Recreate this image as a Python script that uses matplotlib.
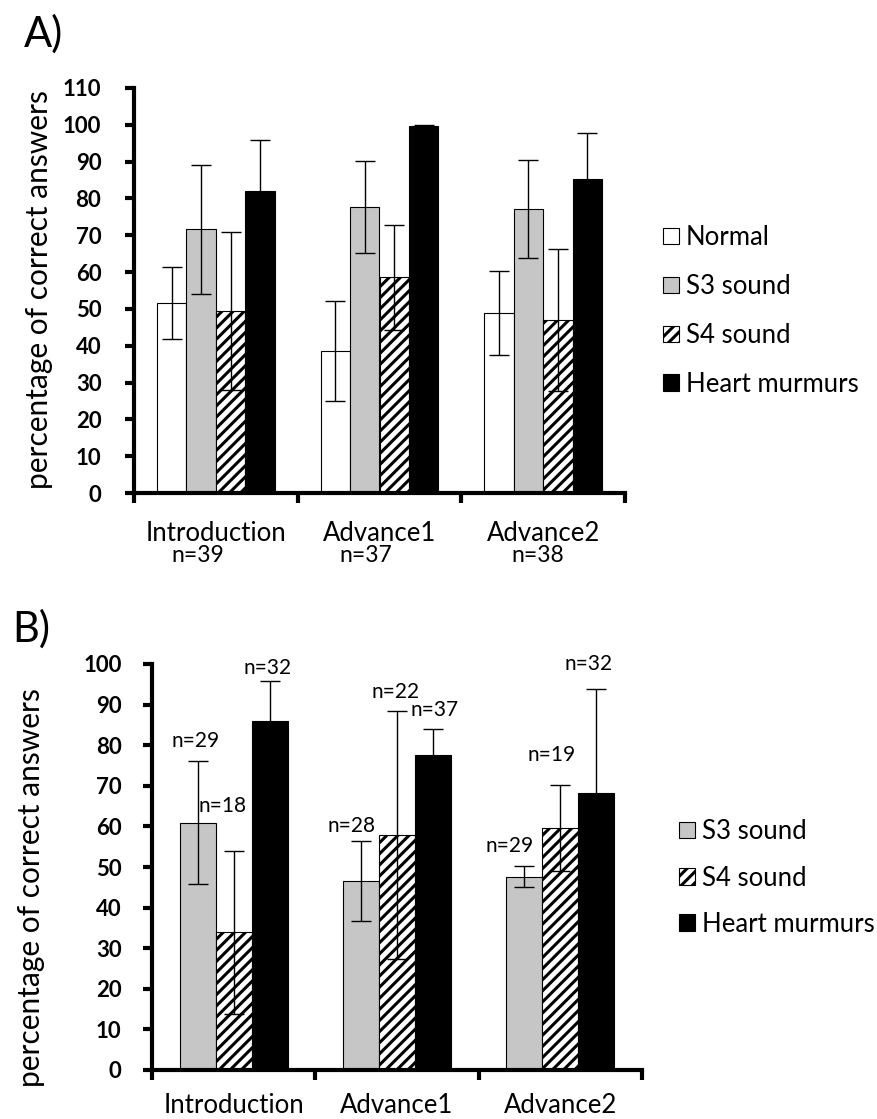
import matplotlib
matplotlib.use("Agg")
import matplotlib.pyplot as plt
import matplotlib.patches as mpatches
import numpy as np

plt.rcParams['font.family'] = ['Lato', 'DejaVu Sans']
plt.rcParams['hatch.linewidth'] = 2.2

# ---------------- data ----------------
categories = ["Introduction", "Advance1", "Advance2"]
n_a = ["n=39", "n=37", "n=38"]

series_a = ["Normal", "S3 sound", "S4 sound", "Heart murmurs"]
normal_a = [51.6, 38.5, 48.8]
normal_a_err = [9.9, 13.6, 11.4]
s3_a = [71.6, 77.7, 77.2]
s3_a_err = [17.5, 12.6, 13.3]
s4_a = [49.5, 58.6, 47.0]
s4_a_err = [21.5, 14.3, 19.2]
hm_a = [81.9, 99.7, 85.2]
hm_a_err = [13.9, 0.3, 12.7]

series_b = ["S3 sound", "S4 sound", "Heart murmurs"]
s3_b = [60.9, 46.6, 47.6]
s3_b_err = [15.2, 9.9, 2.6]
s4_b = [33.9, 57.9, 59.6]
s4_b_err = [20.1, 30.5, 10.6]
hm_b = [86.0, 77.5, 68.2]
hm_b_err = [9.8, 6.6, 25.6]
n_b = [["n=29", "n=28", "n=29"],
       ["n=18", "n=22", "n=19"],
       ["n=32", "n=37", "n=32"]]

yticks_a = list(range(0, 111, 10))
yticks_b = list(range(0, 101, 10))

# ---------------- styles ----------------
styles = {
    "Normal": dict(facecolor="white", hatch=None),
    "S3 sound": dict(facecolor="#c6c6c6", hatch=None),
    "S4 sound": dict(facecolor="white", hatch="///"),
    "Heart murmurs": dict(facecolor="black", hatch=None),
}

W, H = 877, 1119
PT = 0.72  # points per pixel at dpi 100
fig = plt.figure(figsize=(W / 100, H / 100), dpi=100)


def px_ax(x0, y0, x1, y1):
    return fig.add_axes([x0 / W, 1 - y1 / H, (x1 - x0) / W, (y1 - y0) / H])


def style_axes(ax, ymax, yticks, ypad):
    ax.set_ylim(0, ymax)
    ax.set_xlim(-0.5, 2.5)
    for s in ("top", "right"):
        ax.spines[s].set_visible(False)
    for s in ("left", "bottom"):
        ax.spines[s].set_linewidth(3)
    ax.set_yticks(yticks)
    ax.tick_params(axis='y', direction='out', length=6.5, width=3, pad=ypad,
                   labelsize=16)
    for lab in ax.get_yticklabels():
        lab.set_fontweight('bold')
    ax.set_xticks([0, 1, 2])
    ax.set_xticklabels(categories, fontsize=18.5)
    ax.set_xticks([-0.5, 0.5, 1.5, 2.5], minor=True)
    ax.tick_params(axis='x', which='major', length=0)
    ax.tick_params(axis='x', which='minor', direction='out', length=7, width=3)


def draw_group(ax, series_list, values, errs, width):
    nser = len(series_list)
    x = np.arange(len(categories))
    centers = []
    for i, (name, v, e) in enumerate(zip(series_list, values, errs)):
        xs = x + (i - (nser - 1) / 2) * width
        st = styles[name]
        ax.bar(xs, v, width, color=st["facecolor"], edgecolor="black",
               linewidth=0.8, hatch=st["hatch"], label=name, zorder=2)
        ax.errorbar(xs, v, yerr=e, fmt='none', ecolor='black',
                    elinewidth=1.0, capsize=7, capthick=1.0, zorder=3)
        centers.append(xs)
    return centers


# ---------------- Panel A ----------------
axA = px_ax(134, 88, 625, 493)
draw_group(axA, series_a, [normal_a, s3_a, s4_a, hm_a],
           [normal_a_err, s3_a_err, s4_a_err, hm_a_err], 0.18)
style_axes(axA, 110, yticks_a, 17)
axA.tick_params(axis='x', which='major', pad=20)
n_a_dx = [-18, -14, -5]
for i, t in enumerate(n_a):
    axA.annotate(t, xy=(i, 0), xycoords=('data', 'axes fraction'),
                 xytext=(n_a_dx[i] * PT, -62 * PT), textcoords='offset points',
                 ha='center', va='center', fontsize=16.5)
fig.text(39 / W, 1 - 290 / H, "percentage of correct answers", rotation=90,
         ha='center', va='center', fontsize=21.5)
fig.text(24 / W, 1 - 34 / H, "A)", ha='left', va='center', fontsize=30)

handles_a = [mpatches.Patch(facecolor=styles[n]["facecolor"], edgecolor='black',
                            hatch=styles[n]["hatch"], linewidth=0.8, label=n)
             for n in series_a]
fig.legend(handles=handles_a, loc='center left',
           bbox_to_anchor=(663 / W, 1 - 311 / H), frameon=False, fontsize=18.5,
           handlelength=0.62, handleheight=0.62, handletextpad=0.27,
           labelspacing=0.93, borderpad=0, borderaxespad=0)

# ---------------- Panel B ----------------
axB = px_ax(152, 664, 642, 1070)
centersB = draw_group(axB, series_b, [s3_b, s4_b, hm_b],
                      [s3_b_err, s4_b_err, hm_b_err], 0.22)
style_axes(axB, 100, yticks_b, 15.5)
axB.tick_params(axis='x', which='major', pad=16.5)
fig.text(31 / W, 1 - 888 / H, "percentage of correct answers", rotation=90,
         ha='center', va='center', fontsize=21.5)
fig.text(12 / W, 1 - 629 / H, "B)", ha='left', va='center', fontsize=30)

# label offsets in pixels (layout only)
n_b_off = [[(-2, 20), (-10, 15), (-15, 20)],
           [(-11, 45), (-1, 19), (-9, 30)],
           [(-2, 13), (2, 19), (-8, 25)]]
vals_b = [s3_b, s4_b, hm_b]
errs_b = [s3_b_err, s4_b_err, hm_b_err]
for si in range(3):
    for ci in range(3):
        dx, dy = n_b_off[si][ci]
        axB.annotate(n_b[si][ci],
                     xy=(centersB[si][ci], vals_b[si][ci] + errs_b[si][ci]),
                     xytext=(dx * PT, dy * PT), textcoords='offset points',
                     ha='center', va='center', fontsize=15)

handles_b = [mpatches.Patch(facecolor=styles[n]["facecolor"], edgecolor='black',
                            hatch=styles[n]["hatch"], linewidth=0.8, label=n)
             for n in series_b]
fig.legend(handles=handles_b, loc='center left',
           bbox_to_anchor=(679 / W, 1 - 878 / H), frameon=False, fontsize=18.5,
           handlelength=0.62, handleheight=0.62, handletextpad=0.27,
           labelspacing=0.83, borderpad=0, borderaxespad=0)

fig.savefig("out.png", dpi=100)
